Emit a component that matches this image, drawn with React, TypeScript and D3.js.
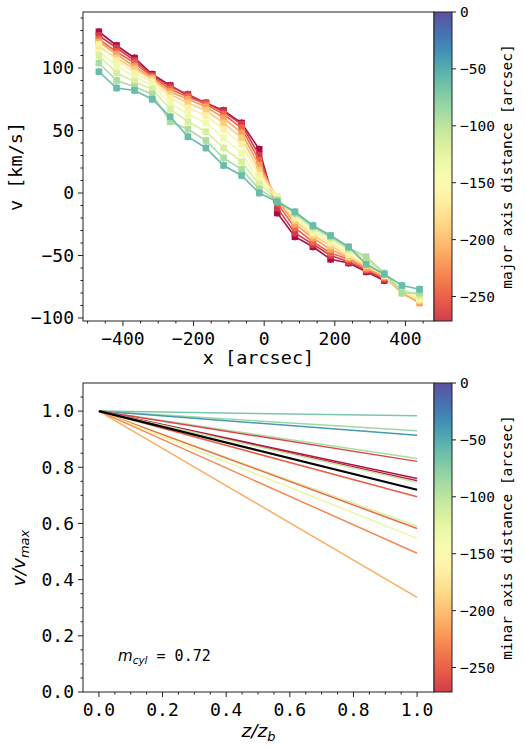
import React from "react";
import * as d3 from "d3";

// ---------- DATA ----------
const xPositions = [-468, -418, -367, -317, -266, -216, -165, -115, -64, -14, 37, 87, 138, 188, 239, 289, 340, 390, 440];

// major axis distance of each series (arcsec), crimson -> teal
const majorDist = [-296, -272, -248, -217, -193, -163, -136, -115, -91, -60];

const s0 = [129, 118, 108, 95, 86, 78, 72, 66, 56, 35, -16, -35, -43, -53, -56, -63, -70, null, null];
const s1 = [126, 116, 106, 94, 85, 79, 72, 65, 55, 30, -12, -32, -41, -50, -55, -62, -69, null, null];
const s2 = [123, 113, 104, 93, 83, 77, 71, 63, 52, 26, -8, -28, -39, -48, -53, -61, -68, null, null];
const s3 = [121, 111, 101, 92, 81, 75, 69, 60, 48, 22, -5, -25, -36, -45, -52, -60, -67, -80, -88];
const s4 = [117, 108, 99, 91, 79, 72, 66, 56, 44, 18, -3, -22, -34, -42, -51, -58, -66, -79, -86];
const s5 = [119, 106, 96, 89, 76, 68, 62, 51, 39, 14, -3, -20, -32, -40, -49, -57, -66, -79, -85];
const s6 = [113, 102, 93, 86, 72, 63, 56, 44, 32, 10, -4, -18, -30, -38, -47, -55, -65, -78, -84];
const s7 = [110, 96, 89, 83, 67, 57, 49, 36, 25, 7, -5, -17, -28, -36, -45, -53, -65, -77, -82];
const s8 = [104, 90, 85, 79, 57, 51, 42, 28, 19, 3, -6, -16, -27, -35, -44, -51, -64, -80, -80];
const s9 = [97, 84, 82, 75, 61, 45, 36, 22, 14, 0, -7, -15, -26, -34, -43, -57, -65, -74, -77];
const velocitySeries = [s0, s1, s2, s3, s4, s5, s6, s7, s8, s9];
const errHalf = 3;

// bottom panel: v/vmax at z/zb = 1 for each line, and its minor axis distance
const lineEnd = [0.983, 0.93, 0.914, 0.831, 0.821, 0.76, 0.752, 0.747, 0.695, 0.59, 0.582, 0.547, 0.494, 0.337];
const minorDist = [-69, -85, -39, -91, -266, -293, -287, -103, -251, -115, -245, -130, -230, -211];
const mCyl = 0.72;

const xTicksTop = [-400, -200, 0, 200, 400];
const yTicksTop = [-100, -50, 0, 50, 100];
const cbTicks = [0, -50, -100, -150, -200, -250];
const xTicksBot = [0, 0.2, 0.4, 0.6, 0.8, 1.0];
const yTicksBot = [0, 0.2, 0.4, 0.6, 0.8, 1.0];

// ---------- LAYOUT ----------
const W = 526, H = 749;
const L = 83, R = 434;
const T1 = 12, B1 = 321;
const T2 = 383, B2 = 692;
const CBW = 18;
const MONO = "DejaVu Sans Mono";
const SANS = "DejaVu Sans";
const AX = "#222";

const color = d3.scaleSequential(d3.interpolateSpectral).domain([-302, 0]);
const fmtInt = d3.format("d");
const fmt1 = d3.format(".1f");

function Frame({ top, bottom }: { top: number; bottom: number }) {
  return <rect x={L} y={top} width={R - L} height={bottom - top} fill="none" stroke={AX} strokeWidth={1} />;
}

function Colorbar({ top, bottom, id, label }: { top: number; bottom: number; id: string; label: string }) {
  const cb = d3.scaleLinear().domain([-271.5, 0]).range([bottom, top]);
  const stops = d3.range(0, 41).map((i) => {
    const v = -(271.5 * i) / 40;
    return { off: (i / 40) * 100, c: color(v) };
  });
  return (
    <g>
      <defs>
        <linearGradient id={id} x1="0" y1="0" x2="0" y2="1">
          {stops.map((s, i) => (
            <stop key={i} offset={`${s.off}%`} stopColor={s.c as string} />
          ))}
        </linearGradient>
      </defs>
      <rect x={R} y={top} width={CBW} height={bottom - top} fill={`url(#${id})`} stroke={AX} strokeWidth={1} />
      {cbTicks.map((t) => (
        <g key={t}>
          <line x1={R + CBW} x2={R + CBW + 4} y1={cb(t)} y2={cb(t)} stroke={AX} />
          <text x={R + CBW + 8} y={cb(t)} dy="0.35em" fontFamily={MONO} fontSize={14.5} fill="#000">
            {fmtInt(t)}
          </text>
        </g>
      ))}
      <text
        transform={`translate(${R + CBW + 60},${(top + bottom) / 2}) rotate(-90)`}
        textAnchor="middle"
        fontFamily={MONO}
        fontSize={14.5}
        fill="#000"
      >
        {label}
      </text>
    </g>
  );
}

export default function App() {
  const xT = d3.scaleLinear().domain([-513, 478]).range([L, R - 1]);
  const yT = d3.scaleLinear().domain([-102.4, 144.8]).range([B1, T1]);
  const xB = d3.scaleLinear().domain([-0.05, 1.05]).range([L, R - 1]);
  const yB = d3.scaleLinear().domain([0, 1.1]).range([B2, T2]);

  const line = d3
    .line<[number, number | null]>()
    .defined((d) => d[1] !== null)
    .x((d) => xT(d[0]))
    .y((d) => yT(d[1] as number));

  const xMinorTop = d3.range(-500, 476, 50).filter((v) => !xTicksTop.includes(v));
  const yMinorTop = d3.range(-100, 141, 10).filter((v) => !yTicksTop.includes(v));
  const xMinorBot = d3.range(0, 21).map((i) => i * 0.05).filter((v) => Math.abs(Math.round(v * 5) - v * 5) > 1e-6);
  const yMinorBot = d3.range(0, 22).map((i) => i * 0.05).filter((v) => Math.abs(Math.round(v * 5) - v * 5) > 1e-6);

  return (
    <svg width={W} height={H} style={{ position: "absolute", left: 0, top: 0, background: "#fff" }}>
      <rect x={0} y={0} width={W} height={H} fill="#fff" />
      {/* ---------- TOP PANEL ---------- */}
      <g>
        <defs>
          <clipPath id="clipTop">
            <rect x={L} y={T1} width={R - L} height={B1 - T1} />
          </clipPath>
        </defs>
        <g clipPath="url(#clipTop)">
          {velocitySeries.map((s, k) => {
            const c = color(majorDist[k]) as string;
            const pts = xPositions.map((x, i) => [x, s[i]] as [number, number | null]);
            return (
              <g key={k}>
                <path d={line(pts) || ""} fill="none" stroke={c} strokeWidth={1.6} />
                {pts
                  .filter((p) => p[1] !== null)
                  .map((p, i) => (
                    <g key={i}>
                      <line
                        x1={xT(p[0])}
                        x2={xT(p[0])}
                        y1={yT((p[1] as number) - errHalf)}
                        y2={yT((p[1] as number) + errHalf)}
                        stroke={c}
                        strokeWidth={1.2}
                      />
                      <rect x={xT(p[0]) - 3.3} y={yT(p[1] as number) - 3.3} width={6.6} height={6.6} fill={c} />
                    </g>
                  ))}
              </g>
            );
          })}
        </g>
        <Frame top={T1} bottom={B1} />
        {xTicksTop.map((t) => (
          <g key={t}>
            <line x1={xT(t)} x2={xT(t)} y1={B1} y2={B1 + 5} stroke={AX} />
            <text x={xT(t)} y={B1 + 24} textAnchor="middle" fontFamily={MONO} fontSize={18} fill="#000">
              {fmtInt(t)}
            </text>
          </g>
        ))}
        {xMinorTop.map((t) => (
          <line key={t} x1={xT(t)} x2={xT(t)} y1={B1} y2={B1 + 2.5} stroke={AX} />
        ))}
        {yTicksTop.map((t) => (
          <g key={t}>
            <line x1={L - 5} x2={L} y1={yT(t)} y2={yT(t)} stroke={AX} />
            <text x={L - 9} y={yT(t)} dy="0.35em" textAnchor="end" fontFamily={MONO} fontSize={18} fill="#000">
              {fmtInt(t)}
            </text>
          </g>
        ))}
        {yMinorTop.map((t) => (
          <line key={t} x1={L - 2.5} x2={L} y1={yT(t)} y2={yT(t)} stroke={AX} />
        ))}
        <text x={(L + R) / 2} y={364} textAnchor="middle" fontFamily={MONO} fontSize={18.5} fill="#000">
          x [arcsec]
        </text>
        <text
          transform={`translate(${22},${(T1 + B1) / 2}) rotate(-90)`}
          textAnchor="middle"
          fontFamily={MONO}
          fontSize={18.5}
          fill="#000"
        >
          v [km/s]
        </text>
        <Colorbar top={T1} bottom={B1} id="cbTop" label="major axis distance [arcsec]" />
      </g>

      {/* ---------- BOTTOM PANEL ---------- */}
      <g>
        {lineEnd.map((e, k) => (
          <line
            key={k}
            x1={xB(0)}
            y1={yB(1)}
            x2={xB(1)}
            y2={yB(e)}
            stroke={color(minorDist[k]) as string}
            strokeWidth={1.5}
          />
        ))}
        <line x1={xB(0)} y1={yB(1)} x2={xB(1)} y2={yB(mCyl)} stroke="#000" strokeWidth={2.2} />
        <Frame top={T2} bottom={B2} />
        {xTicksBot.map((t) => (
          <g key={t}>
            <line x1={xB(t)} x2={xB(t)} y1={B2} y2={B2 + 5} stroke={AX} />
            <text x={xB(t)} y={B2 + 24} textAnchor="middle" fontFamily={MONO} fontSize={18} fill="#000">
              {fmt1(t)}
            </text>
          </g>
        ))}
        {xMinorBot.map((t) => (
          <line key={t} x1={xB(t)} x2={xB(t)} y1={B2} y2={B2 + 2.5} stroke={AX} />
        ))}
        {yTicksBot.map((t) => (
          <g key={t}>
            <line x1={L - 5} x2={L} y1={yB(t)} y2={yB(t)} stroke={AX} />
            <text x={L - 9} y={yB(t)} dy="0.35em" textAnchor="end" fontFamily={MONO} fontSize={18} fill="#000">
              {fmt1(t)}
            </text>
          </g>
        ))}
        {yMinorBot.map((t) => (
          <line key={t} x1={L - 2.5} x2={L} y1={yB(t)} y2={yB(t)} stroke={AX} />
        ))}
        <text x={(L + R) / 2} y={737} textAnchor="middle" fontFamily={SANS} fontStyle="italic" fontSize={18.5} fill="#000">
          z/z
          <tspan dy={4} fontSize={13}>b</tspan>
        </text>
        <text
          transform={`translate(${25},${558}) rotate(-90)`}
          textAnchor="middle"
          fontFamily={SANS}
          fontStyle="italic"
          fontSize={18.5}
          fill="#000"
        >
          v/v
          <tspan dy={4} fontSize={13}>max</tspan>
        </text>
        <text x={118} y={661} fontFamily={SANS} fontStyle="italic" fontSize={15} fill="#000">
          m
          <tspan dy={3} fontSize={10.5}>cyl</tspan>
          <tspan dy={-3} fontFamily={MONO} fontStyle="normal" fontSize={15}>
            {` = ${mCyl.toFixed(2)}`}
          </tspan>
        </text>
        <Colorbar top={T2} bottom={B2} id="cbBot" label="minar axis distance [arcsec]" />
      </g>
    </svg>
  );
}
